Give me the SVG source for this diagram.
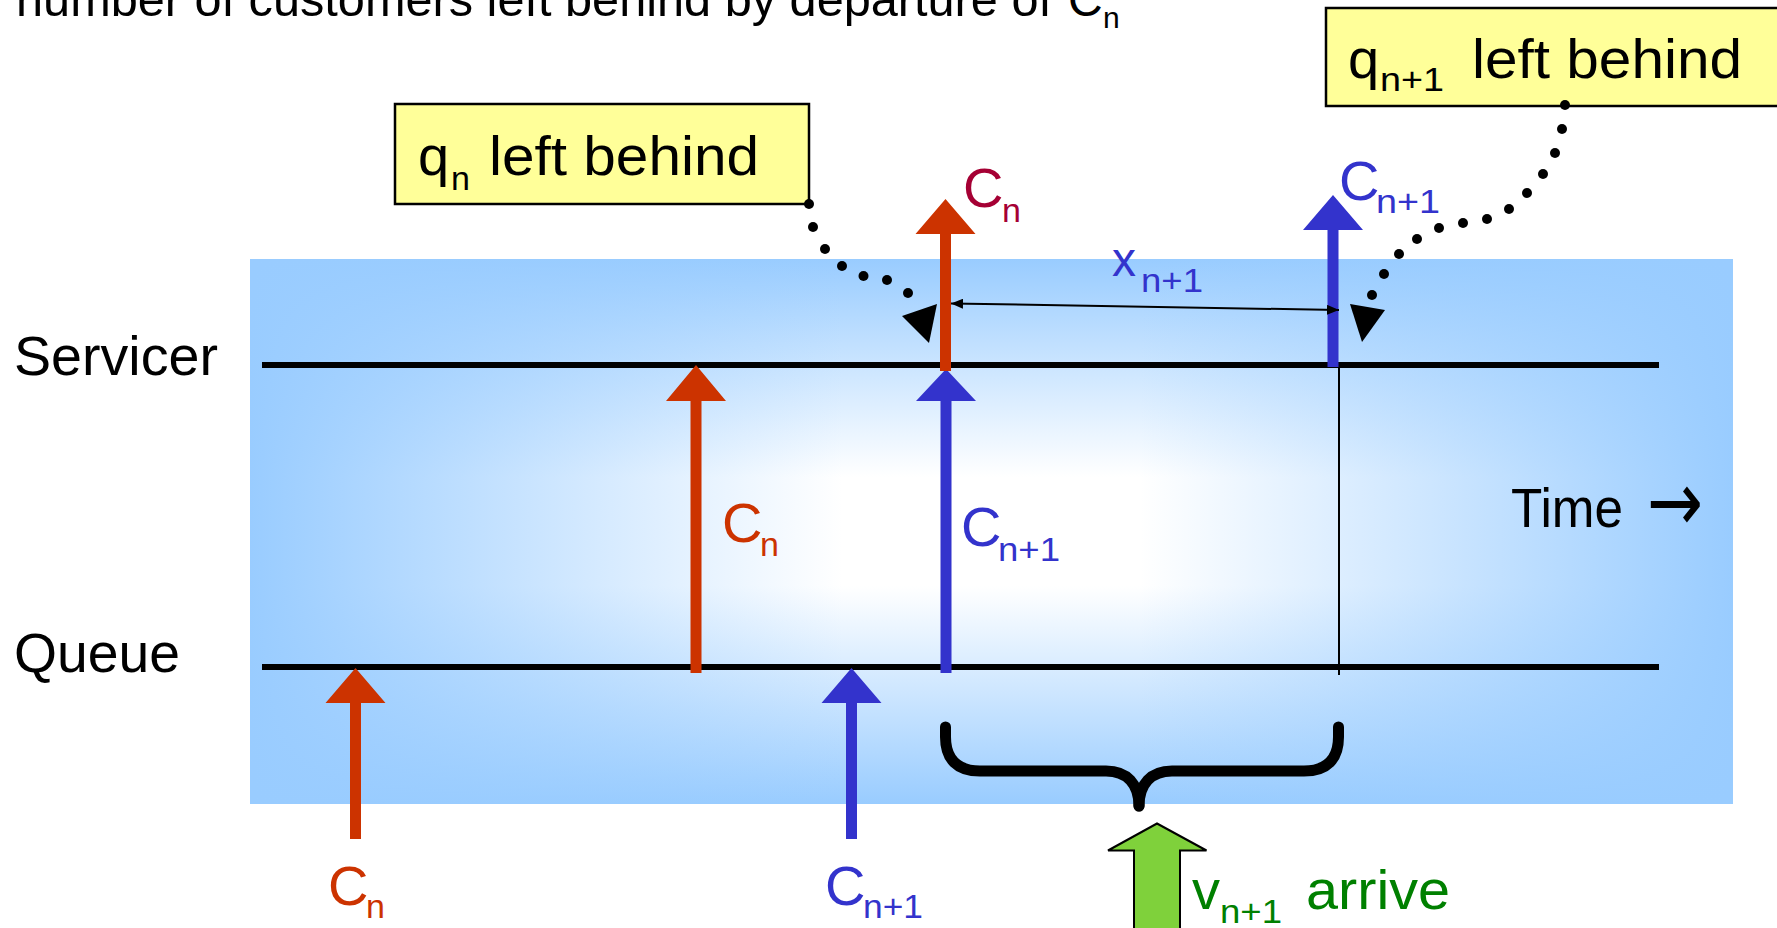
<svg xmlns="http://www.w3.org/2000/svg" width="1777" height="928" viewBox="0 0 1777 928">
<defs>
<style>
text{font-family:"Liberation Sans",Arial,sans-serif;}
.lbl{font-size:56px;fill:#000;}
.sub{font-size:34px;}
.red{fill:#CC3300;}
.blue{fill:#3333CC;}
.crim{fill:#A50034;}
.grn{fill:#008000;}
.axis{stroke:#000;stroke-width:6;}
.box{fill:#FFFF99;stroke:#000;stroke-width:2.5;}
.dot{fill:#000;}
</style>
<linearGradient id="gv" x1="0" y1="0" x2="0" y2="1">
<stop offset="0" stop-color="#99CCFF" stop-opacity="1"/>
<stop offset="0.4" stop-color="#99CCFF" stop-opacity="0"/>
<stop offset="0.6" stop-color="#99CCFF" stop-opacity="0"/>
<stop offset="1" stop-color="#99CCFF" stop-opacity="1"/>
</linearGradient>
<linearGradient id="gh" x1="0" y1="0" x2="1" y2="0">
<stop offset="0" stop-color="#99CCFF" stop-opacity="1"/>
<stop offset="0.4" stop-color="#99CCFF" stop-opacity="0"/>
<stop offset="0.6" stop-color="#99CCFF" stop-opacity="0"/>
<stop offset="1" stop-color="#99CCFF" stop-opacity="1"/>
</linearGradient>
<marker id="ah" viewBox="0 0 12 10" refX="12" refY="5" markerWidth="12" markerHeight="10" markerUnits="userSpaceOnUse" orient="auto-start-reverse">
<path d="M0,0 L12,5 L0,10 Z" fill="#000"/>
</marker>
</defs>

<g id="background">
<rect x="250" y="259" width="1483" height="545" fill="#FFFFFF"/>
<rect x="250" y="259" width="1483" height="545" fill="url(#gv)"/>
<rect x="250" y="259" width="1483" height="545" fill="url(#gh)"/>
</g>

<g id="title">
<text class="lbl" x="16" y="16" style="font-size:48px" textLength="1036" lengthAdjust="spacingAndGlyphs">number of customers left behind by departure of</text>
<text class="lbl" x="1068" y="16" style="font-size:48px">C</text>
<text class="lbl" x="1103" y="28" style="font-size:30px">n</text>
</g>

<g id="servicer">
<line class="axis" x1="262" y1="365" x2="1659" y2="365"/>
<text class="lbl" x="14" y="375" textLength="204" lengthAdjust="spacingAndGlyphs">Servicer</text>
</g>

<g id="queue">
<line class="axis" x1="262" y1="667" x2="1659" y2="667"/>
<text class="lbl" x="14" y="672" textLength="166" lengthAdjust="spacingAndGlyphs">Queue</text>
</g>

<g id="time">
<text class="lbl" x="1511" y="527" textLength="112" lengthAdjust="spacingAndGlyphs">Time</text>
<text x="1647" y="531" style="font-family:'DejaVu Sans',sans-serif;font-size:84px" textLength="56" lengthAdjust="spacingAndGlyphs" fill="#000">→</text>
</g>

<g id="box-qn">
<rect class="box" x="395" y="104" width="414" height="100"/>
<text class="lbl" x="418" y="175">q</text>
<text class="lbl sub" x="451" y="190">n</text>
<text class="lbl" x="489" y="175" textLength="270" lengthAdjust="spacingAndGlyphs">left behind</text>
</g>

<g id="box-qn1">
<rect class="box" x="1326" y="8" width="470" height="98"/>
<text class="lbl" x="1348" y="78">q</text>
<text class="lbl sub" x="1380" y="91" textLength="64" lengthAdjust="spacingAndGlyphs">n+1</text>
<text class="lbl" x="1472" y="78" textLength="270" lengthAdjust="spacingAndGlyphs">left behind</text>
</g>

<g id="labels">
<text class="lbl red" x="328" y="905">C</text>
<text class="lbl sub red" x="366" y="918">n</text>
<text class="lbl blue" x="825" y="905">C</text>
<text class="lbl sub blue" x="863" y="918" textLength="60" lengthAdjust="spacingAndGlyphs">n+1</text>
<text class="lbl red" x="722" y="542">C</text>
<text class="lbl sub red" x="760" y="556">n</text>
<text class="lbl blue" x="961" y="546">C</text>
<text class="lbl sub blue" x="998" y="561" textLength="62" lengthAdjust="spacingAndGlyphs">n+1</text>
<text class="lbl crim" x="963" y="207">C</text>
<text class="lbl sub crim" x="1002" y="222">n</text>
<text class="lbl blue" x="1339" y="200">C</text>
<text class="lbl sub blue" x="1376" y="213" textLength="64" lengthAdjust="spacingAndGlyphs">n+1</text>
<text class="lbl blue" x="1112" y="276" style="font-size:48px">x</text>
<text class="lbl sub blue" x="1141" y="292" textLength="62" lengthAdjust="spacingAndGlyphs">n+1</text>
<text class="lbl grn" x="1192" y="909">v</text>
<text class="lbl sub grn" x="1220" y="923" textLength="62" lengthAdjust="spacingAndGlyphs">n+1</text>
<text class="lbl grn" x="1306" y="909" textLength="144" lengthAdjust="spacingAndGlyphs">arrive</text>
</g>

<g id="connectors">
<path class="red" d="M350,703 H325.5 L355.5,668 L385.5,703 H361 V839 H350 Z"/>
<path class="blue" d="M846,703 H821.5 L851.5,668 L881.5,703 H857 V839 H846 Z"/>
<path class="red" d="M690.5,401 H666 L696,365 L726,401 H701.5 V673 H690.5 Z"/>
<path class="blue" d="M940.5,401 H916 L946,369 L976,401 H951.5 V673 H940.5 Z"/>
<path class="red" d="M940,234 H915.5 L945.5,199 L975.5,234 H951 V371 H940 Z"/>
<path class="blue" d="M1327.5,230 H1303 L1333,195 L1363,230 H1338.5 V367 H1327.5 Z"/>
<line x1="1339" y1="367" x2="1339" y2="675" stroke="#000" stroke-width="2"/>
<line x1="951" y1="303.5" x2="1339" y2="310" stroke="#000" stroke-width="2" marker-start="url(#ah)" marker-end="url(#ah)"/>
<path d="M945.5,727 V737 C945.5,759 957,771 980,771 H1106 C1127,771 1139,784 1139,806" fill="none" stroke="#000" stroke-width="11" stroke-linecap="round" stroke-linejoin="round"/>
<path d="M1338.5,727 V737 C1338.5,759 1327,771 1304,771 H1172 C1151,771 1139,784 1139,806" fill="none" stroke="#000" stroke-width="11" stroke-linecap="round" stroke-linejoin="round"/>
<path d="M1157,823.5 L1206.5,850.5 H1180 V940 H1134 V850.5 H1108 Z" fill="#7FD13B" stroke="#000" stroke-width="2"/>
<g id="dots-qn" class="dot">
<circle cx="809" cy="204" r="5"/><circle cx="813" cy="227" r="5"/><circle cx="825" cy="249" r="5"/><circle cx="842" cy="266" r="5"/><circle cx="863.5" cy="276" r="5"/><circle cx="887" cy="280" r="5"/><circle cx="908" cy="293" r="5"/>
<polygon points="902,316 937,304 929,343"/>
</g>
<g id="dots-qn1" class="dot">
<circle cx="1565" cy="105" r="5"/><circle cx="1562" cy="129" r="5"/><circle cx="1555" cy="153" r="5"/><circle cx="1543" cy="174" r="5"/><circle cx="1527" cy="193" r="5"/><circle cx="1509" cy="209" r="5"/><circle cx="1487" cy="219" r="5"/><circle cx="1463" cy="223" r="5"/><circle cx="1439" cy="228" r="5"/><circle cx="1417" cy="239" r="5"/><circle cx="1399" cy="254" r="5"/><circle cx="1384" cy="274" r="5"/><circle cx="1372" cy="295" r="5"/>
<polygon points="1350,304 1385,310 1362,342"/>
</g>
</g>
</svg>
